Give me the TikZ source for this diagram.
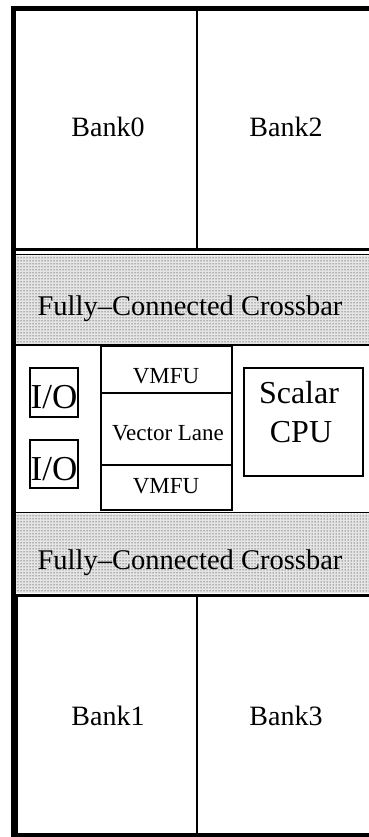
\documentclass[tikz,border=0pt]{standalone}
\usepackage{fontspec}
\setmainfont{Liberation Serif}
\usetikzlibrary{patterns}
\tikzset{
  lbl/.style={inner sep=0pt, anchor=base},
  bankfont/.style={font=\fontsize{28}{30}\selectfont},
  xbarfont/.style={font=\fontsize{28.5}{30}\selectfont},
  smallfont/.style={font=\fontsize{23}{25}\selectfont},
  iofont/.style={font=\fontsize{35}{37}\selectfont},
  cpufont/.style={font=\fontsize{32}{34}\selectfont},
  thinbox/.style={draw=black, line width=1.3pt},
  xbar/.style={pattern=dots, pattern color=black}
}
\begin{document}
\begin{tikzpicture}[x=1pt,y=-1pt]
\useasboundingbox (0,0) rectangle (369,837);
\fill[white] (0,0) rectangle (369,837);
\clip (0,0) rectangle (369,837);
% crossbar regions
\fill[black!10] (15,255.5) rectangle (400,344);
\fill[black!10] (15,513.5) rectangle (400,592.5);
\fill[xbar] (15,255.5) rectangle (400,344);
\fill[xbar] (15,513.5) rectangle (400,592.5);
% outer border
\draw[line width=5pt] (13,9) rectangle (400,835);
\draw[line width=7pt] (14.5,595) -- (14.5,835);
% bank dividers
\draw[line width=1.6pt] (197,9) -- (197,249);
\draw[line width=1.6pt] (197,595) -- (197,835);
% horizontal separators
\draw[line width=3pt] (13,249.5) -- (400,249.5);
\draw[line width=1pt] (13,254.5) -- (400,254.5);
\draw[line width=1.5pt] (13,345) -- (400,345);
\draw[line width=1.5pt] (13,512.5) -- (400,512.5);
\draw[line width=3pt] (13,595) -- (400,595);
% vector lane block
\draw[line width=2.8pt] (101,346) rectangle (232,510);
\draw[line width=1.2pt] (101,393) -- (232,393);
\draw[line width=1.2pt] (101,465) -- (232,465);
% I/O boxes and scalar CPU
\draw[thinbox] (30,368) rectangle (78,417);
\draw[thinbox] (30,440) rectangle (78,488);
\draw[thinbox] (244,368) rectangle (363,476);
% texts
\node[lbl,bankfont] (b0) at (108,137) {Bank0};
\node[lbl,bankfont] (b2) at (286,137) {Bank2};
\node[lbl,bankfont] (b1) at (108,725) {Bank1};
\node[lbl,bankfont] (b3) at (286,725) {Bank3};
\node[lbl,xbarfont] (x1) at (190,315) {Fully--Connected Crossbar};
\node[lbl,xbarfont] (x2) at (190,569) {Fully--Connected Crossbar};
\node[lbl,smallfont] (v1) at (166,383) {VMFU};
\node[lbl,smallfont] (vl) at (168,440) {Vector Lane};
\node[lbl,smallfont] (v2) at (166,493) {VMFU};
\node[lbl,iofont] (io1) at (54,408) {I/O};
\node[lbl,iofont] (io2) at (54,480) {I/O};
\node[lbl,cpufont] (sc) at (299,403) {Scalar};
\node[lbl,cpufont] (cpu) at (301,442) {CPU};
\end{tikzpicture}
\end{document}
